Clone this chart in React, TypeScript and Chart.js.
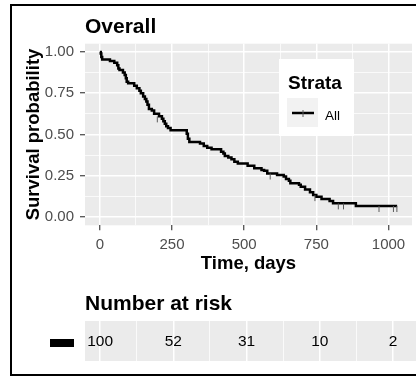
import React, { useEffect, useRef } from 'react';
import { Chart, registerables } from 'chart.js';

Chart.register(...registerables);

// ---------- data ----------
const eventTimes = [
  0, 3, 5, 8, 35, 50, 60, 64, 68, 80, 86, 90, 93, 98, 119, 128, 137, 142, 150, 156,
  161, 165, 170, 180, 188, 205, 215, 220, 225, 230, 236, 245, 301, 305, 310, 347, 360,
  372, 387, 420, 428, 433, 445, 456, 466, 478, 512, 535, 560, 569, 580, 614, 637, 645,
  655, 660, 690, 696, 711, 728, 739, 750, 768, 796, 808, 887, 1030,
];
const survival = [
  1.0, 0.99, 0.97, 0.955, 0.945, 0.935, 0.92, 0.9, 0.89, 0.875, 0.86, 0.84, 0.82, 0.81,
  0.795, 0.78, 0.765, 0.75, 0.73, 0.715, 0.7, 0.68, 0.655, 0.645, 0.625, 0.61, 0.595,
  0.58, 0.565, 0.55, 0.54, 0.526, 0.505, 0.475, 0.455, 0.445, 0.43, 0.42, 0.41, 0.395,
  0.385, 0.37, 0.36, 0.35, 0.335, 0.325, 0.31, 0.295, 0.285, 0.28, 0.264, 0.255, 0.245,
  0.23, 0.22, 0.205, 0.195, 0.183, 0.167, 0.15, 0.133, 0.123, 0.109, 0.097, 0.083,
  0.067, 0.067,
];
const censorTimes = [199, 590, 745, 826, 844, 967, 1017, 1029];
const censorSurv = [0.61, 0.264, 0.133, 0.083, 0.083, 0.067, 0.067, 0.067];

const xTickValues = [0, 125, 250, 375, 500, 625, 750, 875, 1000];
const xMajorTicks = [0, 250, 500, 750, 1000];
const yTickValues = [0, 0.125, 0.25, 0.375, 0.5, 0.625, 0.75, 0.875, 1];
const yMajorTicks = [0, 0.25, 0.5, 0.75, 1];

const riskTimes = [0, 250, 500, 750, 1000];
const riskCounts = [100, 52, 31, 10, 2];

const strataLabels = ['All'];
const plotTitle = 'Overall';
const xTitle = 'Time, days';
const yTitle = 'Survival probability';
const legendTitle = 'Strata';
const riskTitle = 'Number at risk';

const X_MIN = -51.5;
const X_MAX = 1081.5;
const Y_MIN = -0.05;
const Y_MAX = 1.05;

const FONT = '"Liberation Sans", Arial, Helvetica, sans-serif';
const PANEL = '#ebebeb';

const isIn = (v: number, arr: number[]) => arr.some((m) => Math.abs(m - v) < 1e-9);

const panelBg = {
  id: 'panelBg',
  beforeDraw(chart: any) {
    const { ctx, chartArea: a } = chart;
    ctx.save();
    ctx.fillStyle = PANEL;
    ctx.fillRect(a.left, a.top, a.right - a.left, a.bottom - a.top);
    ctx.restore();
  },
};

function makeCensorImage() {
  const c = document.createElement('canvas');
  c.width = 3;
  c.height = 14;
  const g = c.getContext('2d')!;
  g.fillStyle = '#5a5a5a';
  g.fillRect(1, 7, 1, 6);
  return c;
}

export default function App() {
  const mainRef = useRef<HTMLCanvasElement>(null);
  const riskRef = useRef<HTMLCanvasElement>(null);

  useEffect(() => {
    const censorImg = makeCensorImage();

    const annot = {
      id: 'annot',
      afterDraw(chart: any) {
        const { ctx, chartArea: a } = chart;
        ctx.save();
        // title
        ctx.fillStyle = '#000';
        ctx.font = `bold 21px ${FONT}`;
        ctx.textAlign = 'left';
        ctx.textBaseline = 'alphabetic';
        ctx.fillText(plotTitle, a.left, 33);
        // x title
        ctx.font = `bold 18.5px ${FONT}`;
        ctx.textAlign = 'center';
        ctx.fillText(xTitle, (a.left + a.right) / 2, 269);
        // y title
        ctx.save();
        ctx.translate(38.5, (a.top + a.bottom) / 2);
        ctx.rotate(-Math.PI / 2);
        ctx.fillText(yTitle, 0, 0);
        ctx.restore();
        // legend
        ctx.fillStyle = '#ffffff';
        ctx.fillRect(279, 59, 75, 77);
        ctx.fillStyle = '#000';
        ctx.font = `bold 19px ${FONT}`;
        ctx.textAlign = 'left';
        ctx.fillText(legendTitle, 288, 89);
        ctx.fillStyle = '#f2f2f2';
        ctx.fillRect(287, 98, 31, 29);
        ctx.strokeStyle = '#000';
        ctx.lineWidth = 2.5;
        ctx.beginPath();
        ctx.moveTo(292, 113);
        ctx.lineTo(314, 113);
        ctx.stroke();
        ctx.fillStyle = '#5a5a5a';
        ctx.fillRect(302.5, 110, 1, 7);
        ctx.fillStyle = '#000';
        ctx.font = `13.5px ${FONT}`;
        ctx.fillText(strataLabels[0], 325, 119.5);
        ctx.restore();
      },
    };

    const mainChart = new Chart(mainRef.current!, {
      type: 'scatter',
      data: {
        datasets: [
          {
            type: 'scatter',
            data: censorTimes.map((t, i) => ({ x: t, y: censorSurv[i] })),
            pointStyle: censorImg as any,
            pointRadius: 5,
            order: 1,
          } as any,
          {
            type: 'line',
            data: eventTimes.map((t, i) => ({ x: t, y: survival[i] })),
            stepped: 'before',
            borderColor: '#000',
            borderWidth: 2.5,
            pointRadius: 0,
            fill: false,
            order: 2,
          } as any,
        ],
      },
      options: {
        animation: false,
        responsive: false,
        maintainAspectRatio: false,
        devicePixelRatio: 1,
        events: [],
        layout: { padding: { top: 43.7, left: 0, right: 1, bottom: 0 } },
        plugins: { legend: { display: false }, tooltip: { enabled: false }, title: { display: false } },
        scales: {
          x: {
            type: 'linear',
            min: X_MIN,
            max: X_MAX,
            afterBuildTicks: (s: any) => {
              s.ticks = xTickValues.map((v) => ({ value: v }));
            },
            afterFit: (s: any) => {
              s.height = 280 - 225.3;
            },
            border: { display: false },
            grid: {
              color: '#ffffff',
              lineWidth: (c: any) => (isIn(c.tick.value, xMajorTicks) ? 1.5 : 0.75),
              tickColor: (c: any) => (isIn(c.tick.value, xMajorTicks) ? '#333333' : 'rgba(0,0,0,0)'),
              tickWidth: 1.1,
              tickLength: 5,
            },
            ticks: {
              autoSkip: false,
              maxRotation: 0,
              padding: 6,
              color: '#4d4d4d',
              font: { family: FONT, size: 15 },
              callback: (v: any) => (isIn(Number(v), xMajorTicks) ? String(v) : ''),
            },
          },
          y: {
            type: 'linear',
            min: Y_MIN,
            max: Y_MAX,
            afterBuildTicks: (s: any) => {
              s.ticks = yTickValues.map((v) => ({ value: v }));
            },
            afterFit: (s: any) => {
              s.width = 85;
            },
            border: { display: false },
            grid: {
              color: '#ffffff',
              lineWidth: (c: any) => (isIn(c.tick.value, yMajorTicks) ? 1.5 : 0.75),
              tickColor: (c: any) => (isIn(c.tick.value, yMajorTicks) ? '#333333' : 'rgba(0,0,0,0)'),
              tickWidth: 1.1,
              tickLength: 5,
            },
            ticks: {
              autoSkip: false,
              padding: 6,
              color: '#4d4d4d',
              font: { family: FONT, size: 15 },
              callback: (v: any) => (isIn(Number(v), yMajorTicks) ? Number(v).toFixed(2) : ''),
            },
          },
        },
      } as any,
      plugins: [panelBg, annot],
    });

    const riskAnnot = {
      id: 'riskAnnot',
      afterDatasetsDraw(chart: any) {
        const { ctx, chartArea: a } = chart;
        const meta = chart.getDatasetMeta(0);
        ctx.save();
        ctx.fillStyle = '#000';
        ctx.font = `15.5px ${FONT}`;
        ctx.textAlign = 'center';
        ctx.textBaseline = 'middle';
        meta.data.forEach((el: any, i: number) => {
          ctx.fillText(String(riskCounts[i]), el.x, el.y + 0.5);
        });
        ctx.textAlign = 'left';
        ctx.textBaseline = 'alphabetic';
        ctx.font = `bold 21px ${FONT}`;
        ctx.fillText(riskTitle, a.left, 30);
        const yRow = chart.scales.y.getPixelForValue(0);
        ctx.fillRect(50, yRow - 2, 24, 8);
        ctx.restore();
      },
    };

    const riskChart = new Chart(riskRef.current!, {
      type: 'scatter',
      data: {
        datasets: [
          {
            data: riskTimes.map((t) => ({ x: t, y: strataLabels[0] })),
            pointRadius: 0,
          } as any,
        ],
      },
      options: {
        animation: false,
        responsive: false,
        maintainAspectRatio: false,
        devicePixelRatio: 1,
        events: [],
        layout: { padding: { top: 41, left: 0, right: 1, bottom: 0 } },
        plugins: { legend: { display: false }, tooltip: { enabled: false }, title: { display: false } },
        scales: {
          x: {
            type: 'linear',
            min: X_MIN,
            max: X_MAX,
            afterBuildTicks: (s: any) => {
              s.ticks = xTickValues.map((v) => ({ value: v }));
            },
            afterFit: (s: any) => {
              s.height = 16;
            },
            border: { display: false },
            grid: {
              color: '#ffffff',
              lineWidth: (c: any) => (isIn(c.tick.value, xMajorTicks) ? 1.5 : 0.75),
              drawTicks: false,
            },
            ticks: { display: false },
          },
          y: {
            type: 'category',
            labels: strataLabels,
            offset: true,
            afterFit: (s: any) => {
              s.width = 85;
            },
            border: { display: false },
            grid: { display: false },
            ticks: { display: false },
          },
        },
      } as any,
      plugins: [panelBg, riskAnnot],
    });

    return () => {
      mainChart.destroy();
      riskChart.destroy();
    };
  }, []);

  return (
    <div
      style={{
        position: 'fixed',
        left: 0,
        top: 0,
        width: 416,
        height: 377,
        overflow: 'hidden',
        background: '#fff',
      }}
    >
      <canvas
        ref={mainRef}
        width={418}
        height={280}
        style={{ position: 'absolute', left: 0, top: 0, width: 418, height: 280 }}
      />
      <canvas
        ref={riskRef}
        width={418}
        height={97}
        style={{ position: 'absolute', left: 0, top: 280, width: 418, height: 97 }}
      />
      <div
        style={{
          position: 'absolute',
          left: 10,
          top: 3.5,
          width: 440,
          height: 372.5,
          boxSizing: 'border-box',
          border: '2.5px solid #000',
          pointerEvents: 'none',
        }}
      />
    </div>
  );
}
